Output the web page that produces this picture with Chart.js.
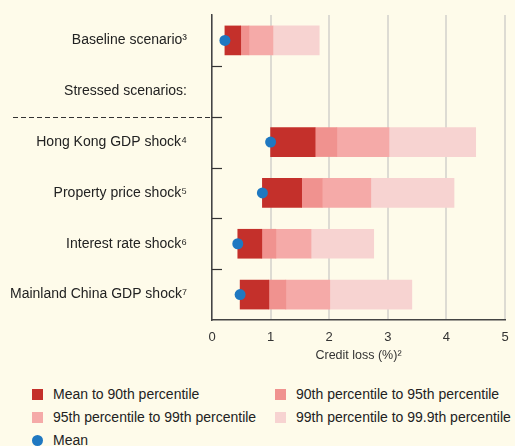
<!DOCTYPE html>
<html>
<head>
<meta charset="utf-8">
<script src="https://cdn.jsdelivr.net/npm/chart.js@4.4.1/dist/chart.umd.min.js"></script>
<style>
  html, body { margin: 0; padding: 0; background: #fefbea; }
  #wrap { position: relative; width: 515px; height: 446px; font-family: "Liberation Sans", Arial, sans-serif; color: #222; }
  #chartBox { position: absolute; left: 0; top: 0; width: 515px; height: 370px; }
  #legend { position: absolute; left: 32px; top: 386px; width: 483px; font-size: 14px; }
  .item { position: absolute; display: flex; align-items: center; white-space: nowrap; }
  .sw { width: 11px; height: 11px; margin-right: 10px; }
  .dot { border-radius: 50%; }
</style>
</head>
<body>
<div id="wrap">
  <div id="chartBox"><canvas id="chart" width="515" height="370"></canvas></div>
  <div id="legend"></div>
</div>
<script>
const categories = ['Baseline scenario³', 'Stressed scenarios:', 'Hong Kong GDP shock⁴',
    'Property price shock⁵', 'Interest rate shock⁶', 'Mainland China GDP shock⁷'];
const meanLoss = [0.22, null, 1.0, 0.86, 0.44, 0.48];
const p90 = [0.49, null, 1.76, 1.53, 0.85, 0.97];
const p95 = [0.63, null, 2.13, 1.88, 1.09, 1.26];
const p99 = [1.04, null, 3.02, 2.71, 1.69, 2.01];
const p999 = [1.83, null, 4.5, 4.13, 2.76, 3.41];
const xTicks = [0, 1, 2, 3, 4, 5];

const colors = ['#c4302b', '#f0928f', '#f5aaa8', '#f7d3d1'];
const meanColor = '#1f78c1';

const range = (lo, hi) => lo.map((v, i) => v === null ? null : [v, hi[i]]);

const barSets = [
    { label: 'Mean to 90th percentile', data: range(meanLoss, p90) },
    { label: '90th percentile to 95th percentile', data: range(p90, p95) },
    { label: '95th percentile to 99th percentile', data: range(p95, p99) },
    { label: '99th percentile to 99.9th percentile', data: range(p99, p999) }
].map((d, i) => ({
    ...d,
    type: 'bar',
    backgroundColor: colors[i],
    borderWidth: 0,
    barThickness: 29,
    grouped: false,
    order: 2
}));

const meanSet = {
    label: 'Mean',
    type: 'scatter',
    data: meanLoss.map((v, i) => v === null ? null : { x: v, y: categories[i] }).filter(p => p),
    backgroundColor: meanColor,
    borderWidth: 0,
    pointRadius: 5.5,
    order: 0
};

// small inner ticks on the y axis plus the dashed separator
const axisDecor = {
    id: 'axisDecor',
    afterDraw(chart) {
        const { ctx, chartArea, scales } = chart;
        const y = scales.y;
        ctx.save();
        ctx.strokeStyle = '#333';
        ctx.lineWidth = 1.2;
        for (let i = 0; i < categories.length - 1; i++) {
            const py = Math.round((y.getPixelForValue(i) + y.getPixelForValue(i + 1)) / 2) + 0.5;
            ctx.beginPath();
            ctx.moveTo(chartArea.left, py);
            ctx.lineTo(chartArea.left + 10, py);
            ctx.stroke();
            if (i === 1) {
                ctx.setLineDash([5, 3]);
                ctx.beginPath();
                ctx.moveTo(13, py);
                ctx.lineTo(chartArea.left, py);
                ctx.stroke();
                ctx.setLineDash([]);
            }
        }
        ctx.restore();
    }
};

const noEdgePad = s => {
    s.paddingTop = 0; s.paddingBottom = 0;
    s.paddingLeft = 0; s.paddingRight = 0;
};

const chart = new Chart(document.getElementById('chart'), {
    type: 'bar',
    data: {
        labels: categories,
        datasets: [...barSets, meanSet]
    },
    options: {
        indexAxis: 'y',
        responsive: false,
        animation: false,
        layout: { autoPadding: false, padding: { top: 15, right: 10, left: 0, bottom: 0 } },
        plugins: {
            legend: { display: false },
            tooltip: { enabled: false }
        },
        scales: {
            x: {
                type: 'linear',
                min: 0,
                max: 5,
                afterBuildTicks: s => { s.ticks = xTicks.map(v => ({ value: v })); },
                afterFit: s => { s.height = 50; noEdgePad(s); },
                grid: { color: '#dddbd3', lineWidth: 2, drawTicks: false },
                border: { color: '#444', width: 1.5 },
                ticks: { color: '#333', padding: 10, font: { family: 'Liberation Sans', size: 13 } },
                title: {
                    display: true,
                    text: 'Credit loss (%)²',
                    color: '#333',
                    padding: { top: 0, bottom: 7 },
                    font: { family: 'Liberation Sans', size: 12.5 }
                }
            },
            y: {
                type: 'category',
                afterFit: s => { s.width = 212; noEdgePad(s); },
                grid: { display: false, drawTicks: false },
                border: { color: '#444', width: 1.5 },
                ticks: { color: '#222', padding: 25, font: { family: 'Liberation Sans', size: 14 } }
            }
        }
    },
    plugins: [axisDecor]
});

// legend in two columns, built from the chart's datasets
const legendPos = [[0, 0], [0, 243], [23, 0], [23, 243], [46, 0]];
const legendEl = document.getElementById('legend');
chart.data.datasets.forEach((ds, i) => {
    const idx = i < 4 ? i : 4;
    const item = document.createElement('div');
    item.className = 'item';
    item.style.top = legendPos[idx][0] + 'px';
    item.style.left = legendPos[idx][1] + 'px';
    const sw = document.createElement('span');
    sw.className = 'sw' + (ds.type === 'scatter' ? ' dot' : '');
    sw.style.background = ds.backgroundColor;
    item.appendChild(sw);
    item.appendChild(document.createTextNode(ds.label));
    legendEl.appendChild(item);
});
</script>
</body>
</html>
